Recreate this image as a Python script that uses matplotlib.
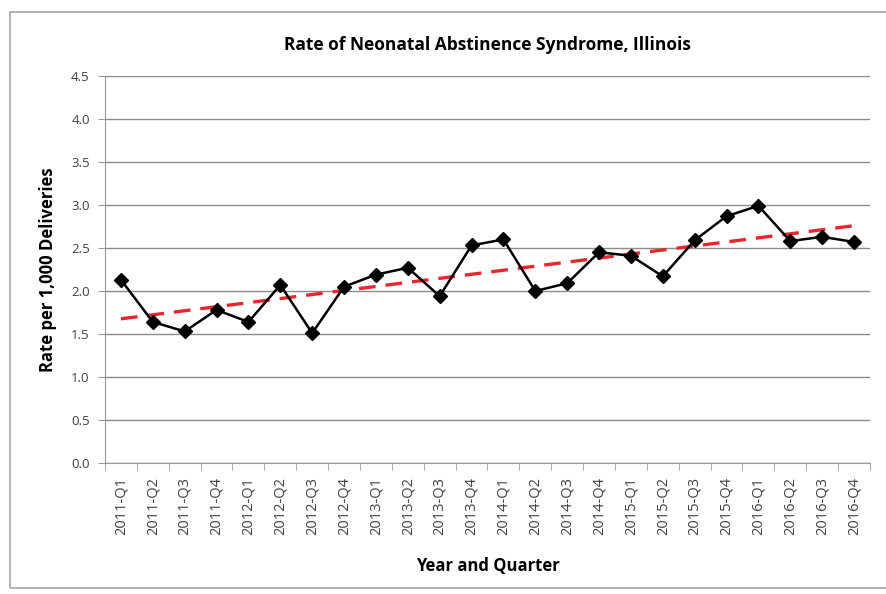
import matplotlib.pyplot as plt
import numpy as np
from matplotlib.patches import Rectangle

quarters = [f"{y}-Q{q}" for y in range(2011, 2017) for q in range(1, 5)]
rates = [2.13, 1.64, 1.53, 1.78, 1.64, 2.07, 1.51, 2.05,
         2.19, 2.27, 1.94, 2.53, 2.60, 2.00, 2.09, 2.45,
         2.41, 2.17, 2.59, 2.87, 2.99, 2.58, 2.63, 2.57]

plt.rcParams['font.family'] = ['Open Sans', 'DejaVu Sans']

fig = plt.figure(figsize=(8.87, 5.94), dpi=100)
# chart border
fig.patches.append(Rectangle((10 / 887, 6 / 594), 900 / 887, 576 / 594,
                             transform=fig.transFigure, fill=False,
                             edgecolor='#a6a6a6', linewidth=1.2))
ax = fig.add_axes([105 / 887, 1 - 463 / 594, 765 / 887, 387 / 594])

x = np.arange(len(rates))
ax.plot(x, rates, color='black', linewidth=1.8, marker='D', markersize=7, zorder=3)

# linear trend
slope, icpt = np.polyfit(x, rates, 1)
ax.plot(x, slope * x + icpt, color='#e8262e', linestyle=(0, (5, 3)), linewidth=2.4, zorder=2)

ax.set_xlim(-0.5, len(rates) - 0.5)
ax.set_ylim(0, 4.5)
ax.set_yticks(np.arange(0, 4.51, 0.5))
ax.set_yticklabels([f"{v:.1f}" for v in np.arange(0, 4.51, 0.5)], fontsize=9.5, color='#404040')
ax.set_xticks(x)
ax.set_xticklabels(quarters, rotation=90, fontsize=10.5, color='#404040')
ax.set_xticks(np.arange(-0.5, len(rates)), minor=True)
ax.tick_params(axis='x', which='major', length=0, pad=10)
ax.tick_params(axis='x', which='minor', length=5, color='#999999')
ax.tick_params(axis='y', length=5, color='#999999', pad=6)

ax.grid(axis='y', color='#8c8c8c', linewidth=1.0)
ax.set_axisbelow(True)
for side in ['top', 'right']:
    ax.spines[side].set_visible(False)
for side in ['left', 'bottom']:
    ax.spines[side].set_color('#999999')

ax.set_title("Rate of Neonatal Abstinence Syndrome, Illinois", fontsize=12.5,
             fontweight='bold', pad=19)
ax.set_ylabel("Rate per 1,000 Deliveries", fontsize=12, fontweight='bold', labelpad=10)
ax.set_xlabel("Year and Quarter", fontsize=12, fontweight='bold', labelpad=16)

fig.savefig('out.png', dpi=100)
